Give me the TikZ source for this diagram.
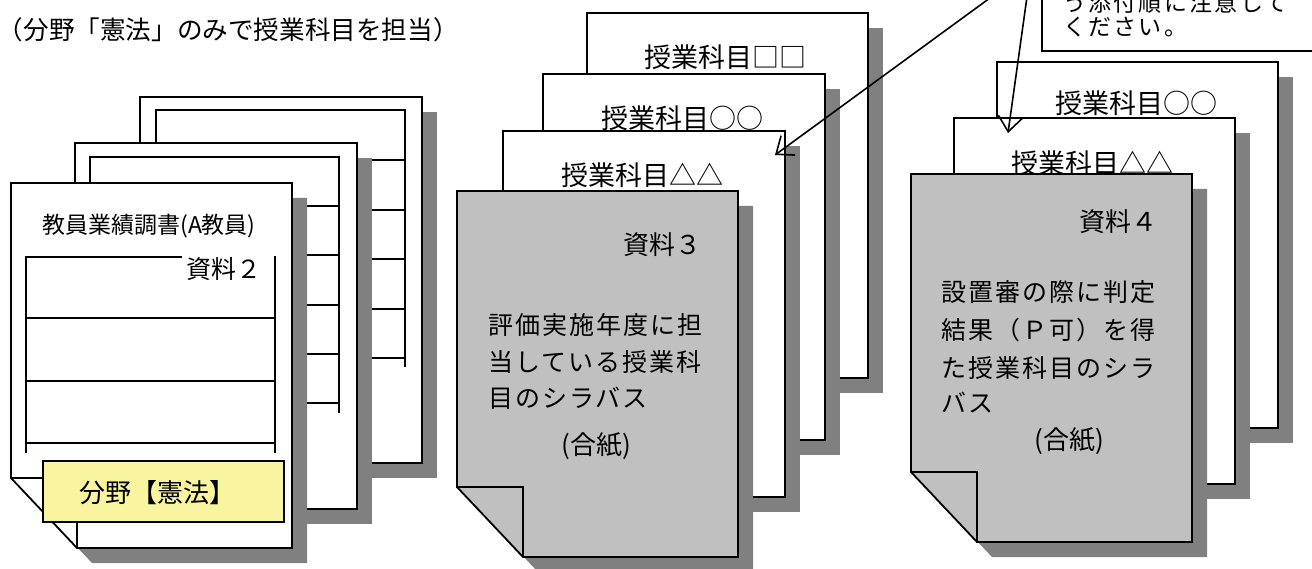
\documentclass[tikz,border=0pt]{standalone}
\usepackage{fontspec}
\setmainfont{Liberation Serif}
\newfontfamily\jpm{Noto Sans CJK JP}
\newfontfamily\jpw[LetterSpace=8]{Noto Sans CJK JP}
\newfontfamily\jpc[LetterSpace=10]{Noto Sans CJK JP}
\usetikzlibrary{arrows.meta,calc}
\definecolor{shadowc}{HTML}{808080}
\definecolor{docgray}{HTML}{C0C0C0}
\definecolor{noteyellow}{HTML}{F8F4A0}
\tikzset{
  docline/.style={draw=black,line width=1.8pt},
  tline/.style={draw=black,line width=1.8pt},
  txt/.style={inner sep=0pt,outer sep=0pt,text=black},
  arrowline/.style={draw=black,line width=1.6pt,-{Straight Barb[length=15pt,width=24pt,line width=1.6pt]}}
}
\newcommand\plaindoc[4]{%
  \fill[shadowc] ({#1+15},{#2+15}) rectangle ({#3+15},{#4+15});
  \filldraw[fill=white,docline] (#1,#2) rectangle (#3,#4);}
\newcommand\folddoc[5]{%
  \fill[shadowc,shift={(15,15)}] (#1,#2) -- (#3,#2) -- (#3,#4) -- ({#1+66},#4) -- (#1,{#4-70}) -- cycle;
  \filldraw[fill=#5,docline] (#1,#2) -- (#3,#2) -- (#3,#4) -- ({#1+66},#4) -- (#1,{#4-70}) -- cycle;
  \draw[docline] (#1,{#4-70}) -- ({#1+66},{#4-70}) -- ({#1+66},#4);}
\begin{document}
\begin{tikzpicture}[x=1pt,y=-1pt]
\useasboundingbox (0,0) rectangle (1312,569);
\clip (0,0) rectangle (1312,569);
\fill[white] (0,0) rectangle (1312,569);

% title
\node[txt,anchor=base west] (title) at (-2,39.6) {\jpm\fontsize{25.6}{28}\selectfont （分野「憲法」のみで授業科目を担当）};

% ---------- left stack ----------
\plaindoc{140}{97}{422}{463}
\draw[tline] (156,143) -- (156,110) -- (405,110) -- (405,367);
\foreach \yy in {160,210,259,309,358} \draw[tline] (150,\yy) -- (405,\yy);

\plaindoc{75}{143}{357}{509}
\draw[tline] (90,183) -- (90,157) -- (339,157) -- (339,413);
\foreach \yy in {206,255,305,354,403} \draw[tline] (85,\yy) -- (339,\yy);

\folddoc{11}{183}{292}{548}{white}
\node[txt,anchor=base] (kyoin) at (149,233.7) {\jpm\fontsize{23}{26}\selectfont 教員業績調書(A教員)};
\draw[tline] (182,257) -- (26,257) -- (26,453);
\draw[tline] (275,256) -- (275,453);
\foreach \yy in {318,381,443} \draw[tline] (26,\yy) -- (275,\yy);
\node[txt,anchor=base east] (shiryo2) at (261,278.5) {\jpm\fontsize{25}{28}\selectfont 資料２};
\filldraw[fill=noteyellow,draw=black,line width=1.5pt] (43,461) rectangle (284,522);
\node[txt,anchor=base] (bunya) at (157,502.9) {\jpm\fontsize{26}{28}\selectfont 分野【憲法】};

% ---------- middle stack ----------
\plaindoc{587}{13}{868}{378}
\node[txt,anchor=base] (m1) at (725,67.3) {\jpm\fontsize{27}{30}\selectfont 授業科目□□};
\plaindoc{543}{74}{825}{440}
\node[txt,anchor=base] (m2) at (682,128.3) {\jpm\fontsize{27}{30}\selectfont 授業科目○○};
\plaindoc{503}{131}{785}{497}
\node[txt,anchor=base] (m3) at (642,185.3) {\jpm\fontsize{27}{30}\selectfont 授業科目△△};
\folddoc{457}{191}{738}{557}{docgray}
\node[txt,anchor=base east] (shiryo3) at (701,254.9) {\jpm\fontsize{26}{28}\selectfont 資料３};
\node[txt,anchor=base west] (b31) at (488,334.5) {\jpw\fontsize{25}{28}\selectfont 評価実施年度に担};
\node[txt,anchor=base west] (b32) at (488,371.5) {\jpw\fontsize{25}{28}\selectfont 当している授業科};
\node[txt,anchor=base west] (b33) at (488,407.5) {\jpw\fontsize{25}{28}\selectfont 目のシラバス};
\node[txt,anchor=base] (gs3) at (596,454.9) {\jpm\fontsize{26}{28}\selectfont (合紙)};

% ---------- right stack ----------
\plaindoc{997}{62}{1278}{428}
\node[txt,anchor=base] (r1) at (1136,113.3) {\jpm\fontsize{27}{30}\selectfont 授業科目○○};
\plaindoc{954}{118}{1235}{484}
\node[txt,anchor=base] (r2) at (1092,173.3) {\jpm\fontsize{27}{30}\selectfont 授業科目△△};
\folddoc{911}{174}{1192}{542}{docgray}
\node[txt,anchor=base east] (shiryo4) at (1157,231.9) {\jpm\fontsize{26}{28}\selectfont 資料４};
\node[txt,anchor=base west] (b41) at (941,301.5) {\jpw\fontsize{25}{28}\selectfont 設置審の際に判定};
\node[txt,anchor=base west] (b42) at (941,339.5) {\jpw\fontsize{25}{28}\selectfont 結果（Ｐ可）を得};
\node[txt,anchor=base west] (b43) at (941,377.5) {\jpw\fontsize{25}{28}\selectfont た授業科目のシラ};
\node[txt,anchor=base west] (b44) at (941,412.5) {\jpw\fontsize{25}{28}\selectfont バス};
\node[txt,anchor=base] (gs4) at (1069,449.9) {\jpm\fontsize{26}{28}\selectfont (合紙)};

% ---------- callout ----------
\filldraw[fill=white,docline] (1042,-80) rectangle (1340,51);
\node[txt,anchor=base west] (c1) at (1063,12) {\jpc\fontsize{23}{26}\selectfont う添付順に注意して};
\node[txt,anchor=base west] (c2) at (1063,36) {\jpc\fontsize{23}{26}\selectfont ください。};
\coordinate (src) at (1031,-32);
\coordinate (tip1) at (775,155);
\coordinate (tip2) at (1008,133);
\draw[arrowline] (src) -- (tip1);
\draw[arrowline] (src) -- (tip2);
\end{tikzpicture}
\end{document}
